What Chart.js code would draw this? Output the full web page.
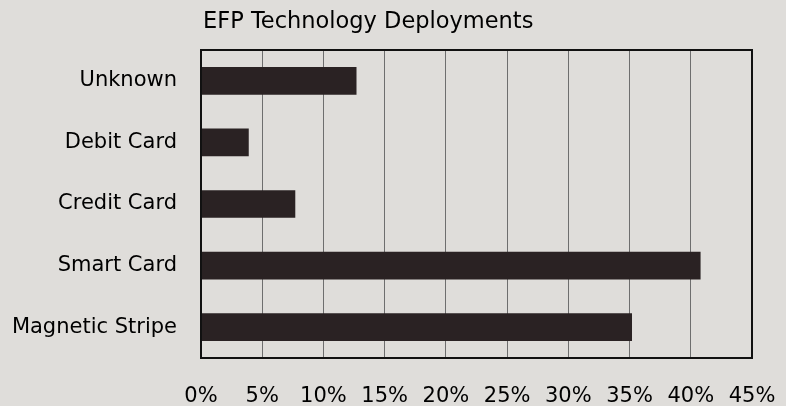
<!DOCTYPE html>
<html>
<head>
<meta charset="utf-8">
<script src="https://cdn.jsdelivr.net/npm/chart.js@4"></script>
<style>
  html, body { margin: 0; padding: 0; background: #dfddda; }
  #wrap { width: 786px; height: 406px; }
</style>
</head>
<body>
<div id="wrap"><canvas id="efpChart" width="786" height="406"></canvas></div>
<script>
// Data
const categories = ['Unknown', 'Debit Card', 'Credit Card', 'Smart Card', 'Magnetic Stripe'];
const shares = [12.7, 3.9, 7.7, 40.8, 35.2];
const tickValues = [0, 5, 10, 15, 20, 25, 30, 35, 40, 45];
const chartTitle = 'EFP Technology Deployments';

const FONT = "'DejaVu Sans', sans-serif";

// title sits at the left edge of the plot, and the plot has a full frame
const framePlugin = {
  id: 'frame',
  afterDraw(chart) {
    const { ctx, chartArea: a } = chart;
    ctx.save();
    ctx.strokeStyle = '#111';
    ctx.lineWidth = 2;
    ctx.strokeRect(a.left, a.top, a.right - a.left, a.bottom - a.top);
    ctx.fillStyle = '#000';
    ctx.font = '22.5px ' + FONT;
    ctx.textBaseline = 'middle';
    ctx.textAlign = 'left';
    ctx.fillText(chartTitle, a.left + 2, 22);
    ctx.restore();
  }
};

new Chart(document.getElementById('efpChart').getContext('2d'), {
  type: 'bar',
  data: {
    labels: categories,
    datasets: [{
      data: shares,
      backgroundColor: '#2a2223',
      barPercentage: 0.45,
      categoryPercentage: 1
    }]
  },
  options: {
    indexAxis: 'y',
    responsive: false,
    animation: false,
    layout: { padding: { top: 50, right: 34, left: 0, bottom: 0 } },
    plugins: {
      legend: { display: false },
      title: { display: false },
      tooltip: { enabled: false }
    },
    scales: {
      x: {
        min: 0,
        max: 45,
        afterBuildTicks(scale) {
          scale.ticks = tickValues.map(v => ({ value: v }));
        },
        afterFit(scale) {
          scale.height = 48;
          scale.paddingLeft = 0;
          scale.paddingRight = 0;
        },
        grid: { color: '#6e6e6e', lineWidth: 1, drawTicks: false },
        border: { display: false },
        ticks: {
          padding: 26,
          color: '#000',
          font: { family: FONT, size: 21 },
          maxRotation: 0,
          autoSkip: false,
          callback: v => v + '%'
        }
      },
      y: {
        afterFit(scale) { scale.width = 201; },
        grid: { display: false },
        border: { display: false },
        ticks: {
          padding: 16,
          color: '#000',
          font: { family: FONT, size: 21 }
        }
      }
    }
  },
  plugins: [framePlugin]
});
</script>
</body>
</html>
